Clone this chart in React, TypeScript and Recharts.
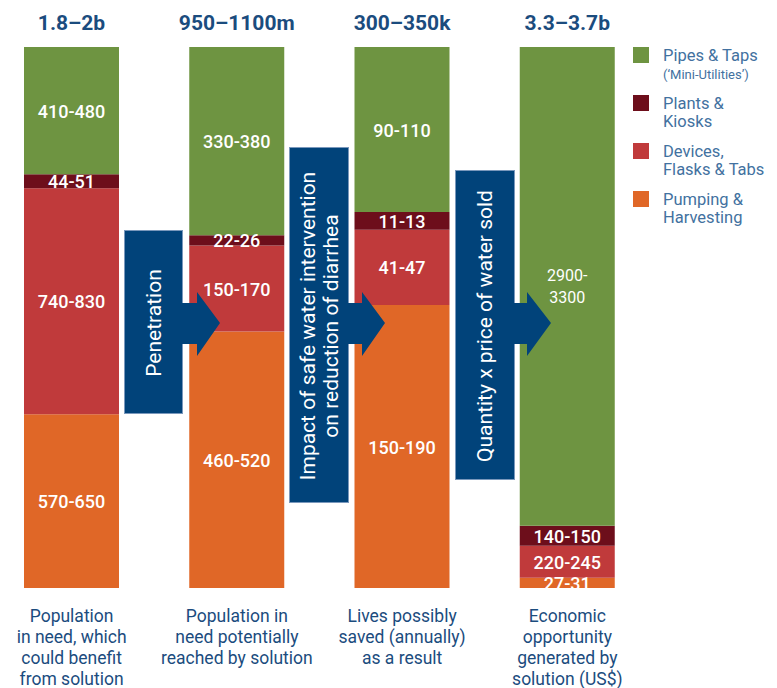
import React from 'react';
import { BarChart, Bar, XAxis, YAxis, Legend, LabelList } from 'recharts';

// ─── Data (share of each bar) ────────────────────────────────────────────────
const categories = ['need', 'reached', 'saved', 'economic'];
const xLabels = [
  ['Population', 'in need, which', 'could benefit', 'from solution'],
  ['Population in', 'need potentially', 'reached by solution'],
  ['Lives possibly', 'saved (annually)', 'as a result'],
  ['Economic', 'opportunity', 'generated by', 'solution (US$)'],
];
const totals = ['1.8–2b', '950–1100m', '300–350k', '3.3–3.7b'];

const pumping = [32.1, 47.4, 52.3, 1.9];
const devices = [41.8, 15.9, 13.9, 5.9];
const plants  = [2.6, 1.9, 3.3, 3.7];
const pipes   = [23.5, 34.8, 30.5, 88.5];

const pumpingText = ['570-650', '460-520', '150-190', '27-31'];
const devicesText = ['740-830', '150-170', '41-47', '220-245'];
const plantsText  = ['44-51', '22-26', '11-13', '140-150'];
const pipesText   = ['410-480', '330-380', '90-110', '2900-\n3300'];

// legend, top to bottom
const legendOrder = ['pipes', 'plants', 'devices', 'pumping'];

const arrowTexts = [
  ['Penetration'],
  ['Impact of safe water intervention', 'on reduction of diarrhea'],
  ['Quantity x price of water sold'],
];

const GREEN  = '#6e9441';
const MAROON = '#6d0e1b';
const RED    = '#c03a3b';
const ORANGE = '#e06727';
const NAVY   = '#01437a';
const TITLE  = '#1b4c7e';
const LEGEND = '#4271a0';
const FONT   = "Roboto, 'Noto Sans', sans-serif";

const data = categories.map((name, i) => ({
  name,
  total: totals[i],
  pumping: pumping[i], pumpingText: pumpingText[i],
  devices: devices[i], devicesText: devicesText[i],
  plants: plants[i],   plantsText: plantsText[i],
  pipes: pipes[i],     pipesText: pipesText[i],
}));

const legendNotes: Record<string, string> = { pipes: '(‘Mini-Utilities’)' };

// ─── Label renderers ─────────────────────────────────────────────────────────
const box = (p: any) => p.viewBox ?? p;

const SegLabel = (p: any) => {
  const { x, y, width, height } = box(p);
  const lines = String(p.value).split('\n');
  const cx = x + width / 2;
  const cy = y + height / 2;
  const multi = lines.length > 1;
  const lh = 22;
  return (
    <text x={cx} y={cy} textAnchor="middle" dominantBaseline="central" fill="#fff"
      fontSize={multi ? 16 : 18} fontWeight={multi ? 400 : 500} fontFamily={FONT}>
      {lines.map((l, i) => (
        <tspan key={i} x={cx} y={cy - ((lines.length - 1) * lh) / 2 + i * lh}>{l}</tspan>
      ))}
    </text>
  );
};

const TotalLabel = (p: any) => {
  const { x, y, width } = box(p);
  return (
    <text x={x + width / 2} y={y - 17} textAnchor="middle" fill={TITLE}
      fontSize={21} fontWeight={700} fontFamily={FONT}>{p.value}</text>
  );
};

const Tick = (p: any) => {
  const { x, y, payload } = p;
  const lines = xLabels[categories.indexOf(payload.value)] ?? [];
  return (
    <text x={x} y={y} textAnchor="middle" fill={TITLE} fontSize={17.5} fontFamily={FONT}>
      {lines.map((l, i) => <tspan key={i} x={x} y={y + 34 + i * 21}>{l}</tspan>)}
    </text>
  );
};

const LegendBox = (p: any) => {
  const items = [...(p.payload ?? [])].sort(
    (a: any, b: any) => legendOrder.indexOf(a.dataKey) - legendOrder.indexOf(b.dataKey)
  );
  return (
    <svg width={150} height={240} style={{ overflow: 'visible' }}>
      {items.map((it: any, i: number) => {
        const lines = String(it.value).split('\n');
        const note = legendNotes[it.dataKey];
        return (
          <g key={i} transform={`translate(0, ${i * 48})`}>
            <rect width={16} height={16} fill={it.color} />
            <text x={30} y={14} fill={LEGEND} fontSize={16.5} fontFamily={FONT}>{lines[0]}</text>
            {lines[1] && <text x={30} y={32} fill={LEGEND} fontSize={16.5} fontFamily={FONT}>{lines[1]}</text>}
            {note && <text x={30} y={32} fill={LEGEND} fontSize={13} fontFamily={FONT}>{note}</text>}
          </g>
        );
      })}
    </svg>
  );
};

// ─── Arrow annotations (box + shaft + head) ──────────────────────────────────
const arrows = [
  { x0: 125, x1: 182, y0: 231, y1: 413, base: 197, tip: 220 },
  { x0: 290, x1: 348, y0: 148, y1: 502, base: 362, tip: 385 },
  { x0: 456, x1: 514, y0: 171, y1: 479, base: 527, tip: 551 },
];

function Arrows() {
  return (
    <svg width={777} height={688} style={{ position: 'absolute', left: 0, top: 0, pointerEvents: 'none' }}>
      {arrows.map((a, i) => {
        const d = `M${a.x0},${a.y0} H${a.x1} V303 H${a.base} V292 L${a.tip},323 L${a.base},356 V344 H${a.x1} V${a.y1} H${a.x0} Z`;
        const cx = (a.x0 + a.x1) / 2;
        const cy = (a.y0 + a.y1) / 2 + 1;
        const lines = arrowTexts[i];
        return (
          <g key={i}>
            <rect x={a.x0 - 0.5} y={a.y0 - 0.5} width={a.x1 - a.x0 + 1} height={a.y1 - a.y0 + 1}
              fill="none" stroke="#7a98bc" strokeWidth={1} />
            <path d={d} fill={NAVY} />
            {lines.map((l, j) => {
              const lx = cx + (j - (lines.length - 1) / 2) * 23 + 7;
              return (
                <text key={j} x={lx} y={cy} transform={`rotate(-90 ${lx} ${cy})`} textAnchor="middle"
                  fill="#fff" fontSize={21} fontFamily={FONT}>{l}</text>
              );
            })}
          </g>
        );
      })}
    </svg>
  );
}

export default function App() {
  return (
    <div style={{ position: 'fixed', left: 0, top: 0, width: 777, height: 688, overflow: 'hidden', background: '#fff' }}>
      <div style={{ position: 'absolute', left: -20, top: 0 }}>
        <BarChart width={797} height={688} data={data} barSize={95}
          margin={{ top: 47, right: 127, left: 9, bottom: 0 }}>
          <XAxis dataKey="name" axisLine={false} tickLine={false} tickSize={0} tickMargin={0}
            height={100} interval={0} tick={<Tick />} />
          <YAxis hide domain={[0, 100]} />
          <Legend layout="vertical" align="center" verticalAlign="middle" content={<LegendBox />}
            wrapperStyle={{ left: 653, top: 47, width: 150, height: 240 }} />
          <Bar dataKey="pumping" name={'Pumping &\nHarvesting'} stackId="a" fill={ORANGE} isAnimationActive={false}>
            <LabelList dataKey="pumpingText" content={<SegLabel />} />
          </Bar>
          <Bar dataKey="devices" name={'Devices,\nFlasks & Tabs'} stackId="a" fill={RED} isAnimationActive={false}>
            <LabelList dataKey="devicesText" content={<SegLabel />} />
          </Bar>
          <Bar dataKey="plants" name={'Plants &\nKiosks'} stackId="a" fill={MAROON} isAnimationActive={false}>
            <LabelList dataKey="plantsText" content={<SegLabel />} />
          </Bar>
          <Bar dataKey="pipes" name="Pipes & Taps" stackId="a" fill={GREEN} isAnimationActive={false}>
            <LabelList dataKey="pipesText" content={<SegLabel />} />
            <LabelList dataKey="total" content={<TotalLabel />} />
          </Bar>
        </BarChart>
      </div>
      <Arrows />
    </div>
  );
}
